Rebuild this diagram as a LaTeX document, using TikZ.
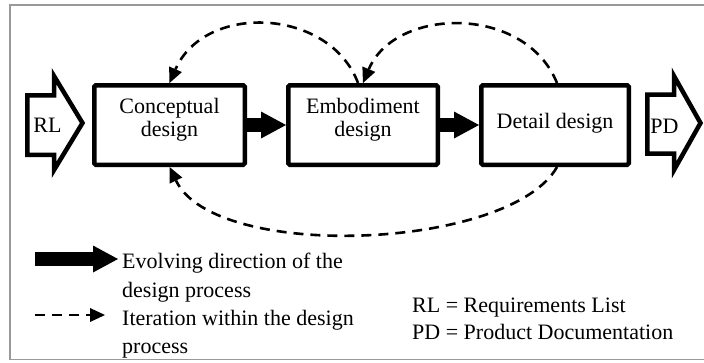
\documentclass[tikz,border=0pt]{standalone}
\usepackage{fontspec}
\setmainfont{Liberation Serif}
\usetikzlibrary{arrows.meta}
\begin{document}
\begin{tikzpicture}[x=1bp,y=-1bp,
  box/.style={draw, line width=4.5bp, rounded corners=1.5bp, minimum height=79.5bp, inner sep=0pt},
  txt/.style={font=\fontsize{22bp}{22bp}\selectfont, inner sep=0pt, anchor=base west},
  txtc/.style={font=\fontsize{22bp}{22bp}\selectfont, inner sep=0pt, anchor=base},
  bigarrow/.style={draw, line width=4.5bp, line join=miter, fill=white},
  evolve/.style={line width=14bp, -{Triangle[length=25bp,width=27bp,line width=0pt]}},
  iter/.style={line width=2.6bp, dash pattern=on 10bp off 7bp, -{Triangle[length=15bp,width=14bp,line width=0pt]}},
]
\useasboundingbox (0,0) rectangle (704,362);
% frame
\draw[black!40, line width=1.5bp] (706,5) -- (10,5) -- (10,359.5) -- (706,359.5);

% input / output arrows
\draw[bigarrow] (27.25,95.25) -- (54,95.25) -- (54,76) -- (82.5,123) -- (54,170) -- (54,154.75) -- (27.25,154.75) -- cycle;
\node[txtc] (rl) at (47.5,132.5) {RL};
\draw[bigarrow] (647.25,94.5) -- (674,94.5) -- (674,76) -- (700.5,123) -- (674,170) -- (674,153.5) -- (647.25,153.5) -- cycle;
\node[txtc] (pd) at (664.5,133) {PD};

% phase boxes
\node[box, minimum width=150.5bp] (cd) at (169.5,125) {};
\node[box, minimum width=149.5bp] (ed) at (363,125) {};
\node[box, minimum width=147.5bp] (dd) at (555,125) {};
\node[txtc] (cd1) at (cd.center |- 0,113) {Conceptual};
\node[txtc] (cd2) at (cd.center |- 0,136) {design};
\node[txtc] (ed1) at (ed.center |- 0,113) {Embodiment};
\node[txtc] (ed2) at (ed.center |- 0,136) {design};
\node[txtc] (dd1) at (dd.center |- 0,128.5) {Detail design};

% evolving direction
\draw[evolve] (cd.east) -- (ed.west);
\draw[evolve] (ed.east) -- (dd.west);

% iterations
\draw[iter] ([xshift=-5bp]ed.north) .. controls (330,8) and (205,2) .. (cd.north);
\draw[iter] ([xshift=2bp]dd.north) .. controls (525,4) and (395,7) .. (ed.north);
\draw[iter] ([xshift=2bp]dd.south) .. controls (510,250) and (215,262) .. (cd.south);

% legend
\node[txt, inner xsep=4bp] (lg1) at (118,268) {Evolving direction of the};
\node[txt] (lg2) at (122,297) {design process};
\node[txt, inner xsep=4bp] (lg3) at (118,325) {Iteration within the design};
\node[txt] (lg4) at (122,353) {process};
\coordinate (l1) at (35,259);
\draw[evolve] (l1) -- (l1 -| lg1.west);
\coordinate (l2s) at (35,315);
\coordinate (l2e) at (105,315);
\draw[iter] (l2s) -- (l2e);

\node[txt] (rl1) at (412,312) {RL = Requirements List};
\node[txt] (pd1) at (412,339) {PD = Product Documentation};
\end{tikzpicture}
\end{document}
